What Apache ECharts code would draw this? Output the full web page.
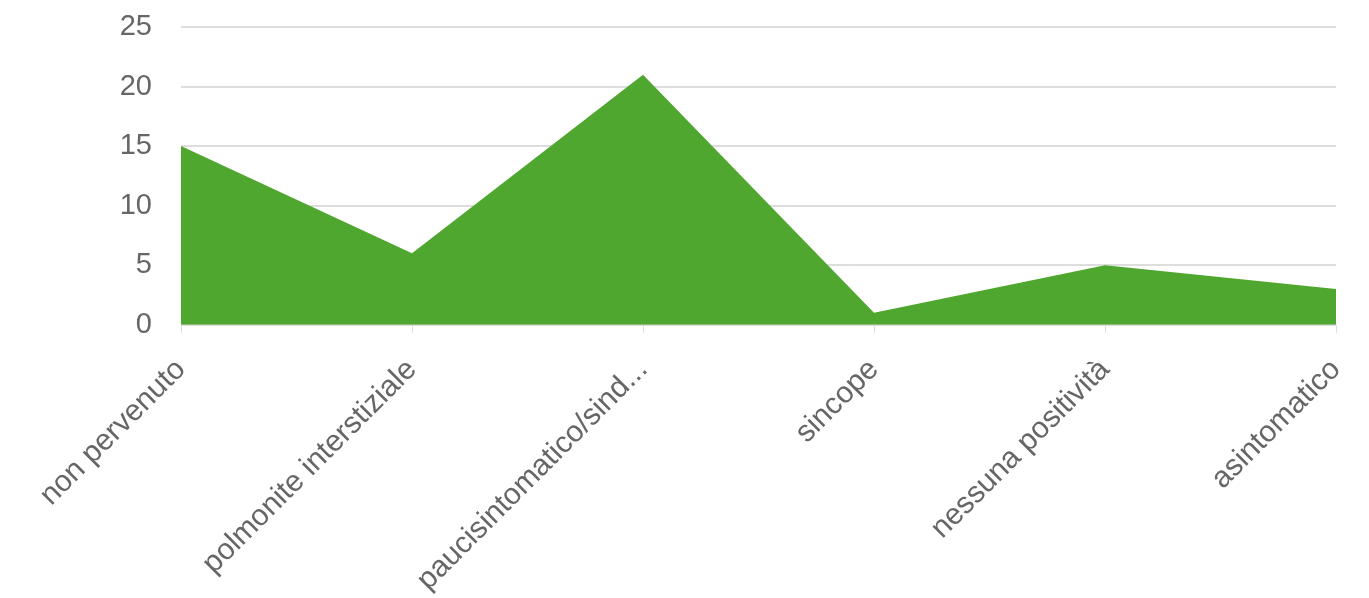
<!DOCTYPE html>
<html>
<head>
<meta charset="utf-8">
<script src="https://cdn.jsdelivr.net/npm/echarts@6/dist/echarts.min.js"></script>
<style>
  html, body { margin: 0; padding: 0; background: #fff; }
  #chart { width: 1369px; height: 598px; }
</style>
</head>
<body>
<div id="chart"></div>
<script>
// Categories along the x axis
const categories = [
  'non pervenuto',
  'polmonite interstiziale',
  'paucisintomatico/sind...',
  'sincope',
  'nessuna positività',
  'asintomatico'
];
// Counts per category
const counts = [15, 6, 21, 1, 5, 3];
// Y axis range
const yMin = 0;
const yMax = 25;
const yStep = 5;

const chart = echarts.init(document.getElementById('chart'));
const fontFamily = '"Liberation Sans", Arial, sans-serif';

chart.setOption({
  animation: false,
  grid: { left: 181, right: 33, top: 27, bottom: 273, containLabel: false },
  xAxis: {
    type: 'category',
    data: categories,
    boundaryGap: false,
    axisLine: { show: true, lineStyle: { color: '#dddddd', width: 1 } },
    axisTick: { show: true, alignWithLabel: true, length: 8, lineStyle: { color: '#dddddd' } },
    axisLabel: {
      rotate: 45,
      interval: 0,
      margin: 40,
      color: '#666666',
      fontSize: 30,
      fontFamily: fontFamily
    },
    splitLine: { show: false }
  },
  yAxis: {
    type: 'value',
    min: yMin,
    max: yMax,
    interval: yStep,
    axisLine: { show: false },
    axisTick: { show: false },
    axisLabel: {
      margin: 29,
      color: '#666666',
      fontSize: 29,
      fontFamily: fontFamily
    },
    splitLine: { show: true, lineStyle: { color: '#dddddd', width: 2 } }
  },
  series: [{
    type: 'line',
    data: counts,
    symbol: 'none',
    lineStyle: { width: 0 },
    itemStyle: { color: '#4fa72f' },
    areaStyle: { color: '#4fa72f', opacity: 1 }
  }]
});
</script>
</body>
</html>
